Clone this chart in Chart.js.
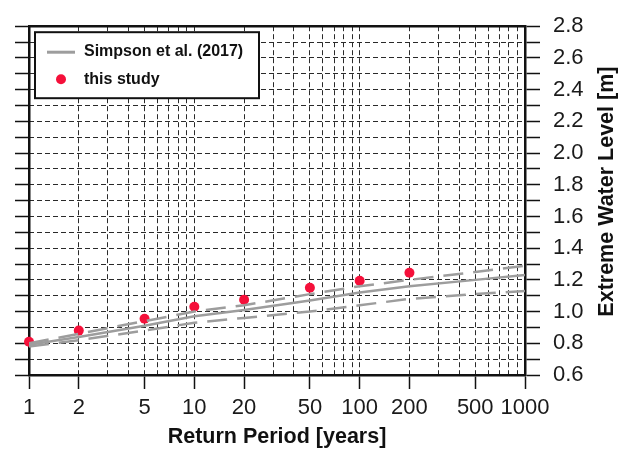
<!DOCTYPE html>
<html>
<head>
<meta charset="utf-8">
<script src="https://cdn.jsdelivr.net/npm/chart.js@4/dist/chart.umd.min.js"></script>
<style>
    html, body { margin: 0; padding: 0; background: #fff; }
    #wrap { width: 630px; height: 451px; position: relative; }
</style>
</head>
<body>
<div id="wrap"><canvas id="chart"></canvas></div>
<script>
// --- Data ---
const RETURN_PERIODS = [1, 2, 5, 10, 20, 50, 100, 200, 500, 1000];
const SIMPSON_MID = [0.79, 0.84, 0.91, 0.97, 1.01, 1.07, 1.12, 1.16, 1.20, 1.23];
const SIMPSON_UPPER = [0.80, 0.86, 0.94, 1.00, 1.04, 1.11, 1.16, 1.20, 1.25, 1.29];
const SIMPSON_LOWER = [0.78, 0.82, 0.88, 0.93, 0.96, 1.00, 1.04, 1.08, 1.11, 1.13];

const STUDY_PERIODS = [1, 2, 5, 10, 20, 50, 100, 200];
const STUDY_LEVELS = [0.81, 0.88, 0.955, 1.03, 1.075, 1.15, 1.195, 1.245];

// tick positions / labels
const X_GRID_VALUES = [1, 2, 3, 4, 5, 6, 7, 8, 9, 10, 20, 30, 40, 50, 60, 70, 80, 90,
    100, 200, 300, 400, 500, 600, 700, 800, 900, 1000];
const X_LABELS = [1, 2, 5, 10, 20, 50, 100, 200, 500, 1000];
const Y_MIN = 0.6;
const Y_MAX = 2.8;

const FONT = "'Liberation Sans', Arial, Helvetica, sans-serif";
const GRAY = '#9d9d9d';
const RED = '#f5103a';

function pairs(xs, ys) {
    return xs.map((x, i) => ({ x: x, y: ys[i] }));
}

function isLabelled(v) {
    return Math.round(v * 10) % 2 === 0;
}

// --- Plugin: right-hand title and legend box ---
const extras = {
    id: 'extras',
    afterDraw(chart) {
        const ctx = chart.ctx;
        const area = chart.chartArea;

        // right-hand title, reading bottom to top
        ctx.save();
        ctx.translate(607, (area.top + area.bottom) / 2 - 9);
        ctx.rotate(-Math.PI / 2);
        ctx.font = 'bold 21.5px ' + FONT;
        ctx.fillStyle = '#111';
        ctx.textAlign = 'center';
        ctx.textBaseline = 'middle';
        ctx.fillText('Extreme Water Level [m]', 0, 0);
        ctx.restore();

        // legend box
        const ds = chart.data.datasets;
        const bx = area.left + 6, by = area.top + 6, bw = 224, bh = 66;
        ctx.save();
        ctx.fillStyle = '#fff';
        ctx.fillRect(bx, by, bw, bh);
        ctx.lineWidth = 2;
        ctx.strokeStyle = '#111';
        ctx.strokeRect(bx, by, bw, bh);

        ctx.strokeStyle = ds[0].borderColor;
        ctx.lineWidth = 3;
        ctx.beginPath();
        ctx.moveTo(bx + 12, by + 20);
        ctx.lineTo(bx + 40, by + 20);
        ctx.stroke();

        ctx.fillStyle = ds[3].backgroundColor;
        ctx.beginPath();
        ctx.arc(bx + 26, by + 47, 5, 0, Math.PI * 2);
        ctx.fill();

        ctx.fillStyle = '#111';
        ctx.font = 'bold 16px ' + FONT;
        ctx.textAlign = 'left';
        ctx.textBaseline = 'middle';
        ctx.fillText(ds[0].label, bx + 49, by + 19);
        ctx.fillText(ds[3].label, bx + 49, by + 47);
        ctx.restore();
    },
};

const ctx = document.getElementById('chart').getContext('2d');
const chart = new Chart(ctx, {
    type: 'line',
    data: {
        datasets: [{
            label: 'Simpson et al. (2017)',
            data: pairs(RETURN_PERIODS, SIMPSON_MID),
            borderColor: GRAY,
            borderWidth: 2.5,
            pointRadius: 0,
        }, {
            label: 'upper',
            data: pairs(RETURN_PERIODS, SIMPSON_UPPER),
            borderColor: GRAY,
            borderWidth: 2.5,
            borderDash: [20, 10],
            pointRadius: 0,
        }, {
            label: 'lower',
            data: pairs(RETURN_PERIODS, SIMPSON_LOWER),
            borderColor: GRAY,
            borderWidth: 2.5,
            borderDash: [20, 10],
            pointRadius: 0,
        }, {
            label: 'this study',
            data: pairs(STUDY_PERIODS, STUDY_LEVELS),
            showLine: false,
            clip: false,
            backgroundColor: RED,
            borderColor: RED,
            pointRadius: 5,
            pointBorderWidth: 0,
        }],
    },
    options: {
        responsive: true,
        maintainAspectRatio: false,
        animation: false,
        layout: { padding: 0 },
        plugins: {
            legend: { display: false },
            tooltip: { enabled: false },
        },
        scales: {
            x: {
                type: 'logarithmic',
                position: 'bottom',
                min: 1,
                max: 1000,
                afterBuildTicks(scale) {
                    scale.ticks = X_GRID_VALUES.map((v) => ({ value: v }));
                },
                afterFit(scale) { scale.height = 76; },
                ticks: {
                    autoSkip: false,
                    maxRotation: 0,
                    padding: 6,
                    color: '#1a1a1a',
                    font: { family: FONT, size: 22 },
                    callback: (v) => (X_LABELS.includes(v) ? String(v) : ''),
                },
                grid: {
                    color: '#2a2a2a',
                    lineWidth: 1,
                    tickLength: 14,
                    tickWidth: 1.5,
                    tickColor: (c) => (c.tick && X_LABELS.includes(c.tick.value) ? '#111' : 'rgba(0,0,0,0)'),
                },
                border: { display: true, color: '#111', width: 2.5, dash: [5, 3] },
                title: {
                    display: true,
                    text: 'Return Period [years]',
                    color: '#111',
                    font: { family: FONT, size: 21.5, weight: 'bold' },
                    padding: { top: 0, bottom: 1 },
                },
            },
            xTop: {
                type: 'linear',
                position: 'top',
                min: 0,
                max: 1,
                afterFit(scale) { scale.height = 20; },
                ticks: { display: false },
                grid: { display: false, drawTicks: false },
                border: { display: true, color: '#111', width: 2.5 },
            },
            y: {
                type: 'linear',
                position: 'right',
                min: Y_MIN,
                max: Y_MAX,
                afterFit(scale) { scale.width = 105; },
                ticks: {
                    stepSize: 0.1,
                    autoSkip: false,
                    padding: 13,
                    color: '#1a1a1a',
                    font: { family: FONT, size: 22 },
                    callback: (v) => (isLabelled(v) ? v.toFixed(1) : ''),
                },
                grid: {
                    color: '#2a2a2a',
                    lineWidth: 1,
                    tickLength: 15,
                    tickWidth: 1.5,
                    tickColor: '#111',
                },
                border: { display: true, color: '#111', width: 2.5, dash: [5, 3] },
            },
            yl: {
                type: 'linear',
                position: 'left',
                min: Y_MIN,
                max: Y_MAX,
                afterFit(scale) { scale.width = 29; },
                ticks: { display: false, stepSize: 0.1, autoSkip: false },
                grid: {
                    drawOnChartArea: false,
                    tickLength: 14,
                    tickWidth: 1.5,
                    tickColor: '#111',
                },
                border: { display: true, color: '#111', width: 2.5 },
            },
        },
    },
    plugins: [extras],
});
</script>
</body>
</html>
